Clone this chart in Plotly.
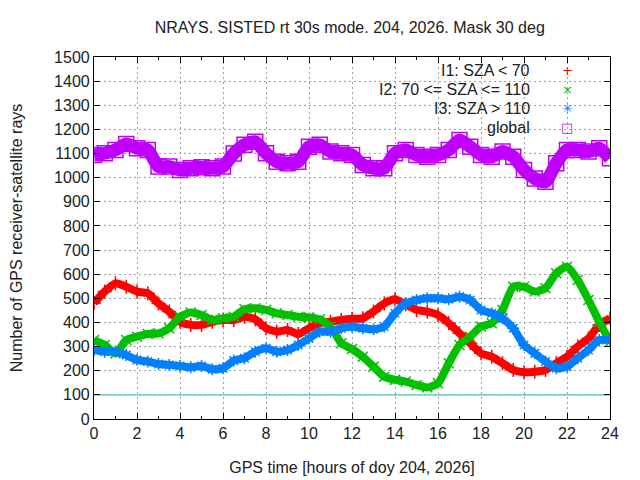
import plotly.graph_objects as go

# GPS time (hours of day), read every half hour
hours = [i * 0.5 for i in range(49)]

i1_rays = [481, 528, 562, 548, 528, 521, 479, 445, 403, 390, 390, 403, 410, 410, 424, 413,
           376, 362, 369, 352, 376, 397, 403, 410, 415, 417, 445, 479, 496, 475, 452, 445,
           431, 397, 355, 314, 272, 258, 231, 203, 194, 196, 203, 231, 258, 300, 334, 390, 417]
i2_rays = [327, 307, 272, 327, 341, 352, 355, 376, 424, 441, 431, 410, 417, 424, 455, 459,
           452, 438, 431, 424, 421, 413, 383, 314, 290, 258, 217, 175, 162, 155, 141, 131,
           148, 231, 307, 341, 383, 397, 452, 548, 548, 528, 542, 604, 631, 576, 493, 403, 320]
i3_rays = [286, 279, 279, 265, 245, 238, 228, 224, 220, 214, 220, 206, 210, 242, 252, 279,
           293, 279, 286, 307, 334, 362, 362, 376, 382, 376, 372, 383, 438, 479, 493, 500,
           500, 496, 507, 493, 452, 438, 417, 376, 307, 272, 238, 210, 217, 252, 286, 327, 327]
global_rays = [1094, 1101, 1115, 1140, 1122, 1115, 1046, 1046, 1032, 1039, 1043, 1039, 1046,
               1100, 1136, 1149, 1101, 1066, 1060, 1066, 1128, 1136, 1108, 1101, 1094, 1053,
               1039, 1039, 1101, 1115, 1094, 1087, 1094, 1115, 1156, 1128, 1094, 1087, 1108,
               1087, 1032, 997, 983, 1060, 1115, 1115, 1108, 1122, 1080]
threshold = 100

labels = ["I1: SZA < 70", "I2: 70 <= SZA <= 110", "I3: SZA > 110", "global"]
colors = ["#ff0000", "#00c000", "#0080ff", "#c000ff"]
key_glyphs = ["+", "\u00d7", "\u2733", "\u25a1"]
symbols = ["cross-thin-open", "x-thin-open", "asterisk-open", "square-open"]
widths = [8, 8, 8, 13]

FONT = "Liberation Sans, Arial, sans-serif"
TXT = "#202020"

fig = go.Figure()
for ys, c, s, w in zip([i1_rays, i2_rays, i3_rays, global_rays], colors, symbols, widths):
    fig.add_trace(go.Scatter(x=hours, y=ys, mode="lines+markers",
                             line=dict(color=c, width=w, shape="spline", smoothing=0.6),
                             marker=dict(symbol=s, size=w + 2, color=c, line=dict(width=1.5, color=c)),
                             showlegend=False, hoverinfo="skip"))

fig.add_hline(y=threshold, line=dict(color="#20d8d8", width=1.2), layer="below")

# gnuplot style key: text right aligned, symbol on the right
for k, (lab, c, g) in enumerate(zip(labels, colors, key_glyphs)):
    yk = 0.964 - k * 0.0525
    fig.add_annotation(x=0.849, y=yk, xref="paper", yref="paper", text=lab, showarrow=False,
                       xanchor="right", yanchor="middle", font=dict(family=FONT, size=16, color=TXT))
    fig.add_annotation(x=0.917, y=yk, xref="paper", yref="paper", text=g, showarrow=False,
                       xanchor="center", yanchor="middle", font=dict(family="DejaVu Sans", size=13, color=c))

axis_common = dict(showline=True, linecolor="black", linewidth=1.2, mirror="allticks",
                   ticks="inside", tickcolor="black", showgrid=True, gridcolor="#a0a0a0",
                   griddash="2px,3px", gridwidth=1, zeroline=False, automargin=False,
                   tickfont=dict(family=FONT, size=16, color=TXT))

fig.update_xaxes(range=[0, 24], dtick=2, ticklen=6,
                 minor=dict(dtick=1, ticks="inside", ticklen=3, tickcolor="black", showgrid=False),
                 title=dict(text="GPS time [hours of doy 204, 2026]", standoff=20,
                            font=dict(family=FONT, size=16, color=TXT)),
                 **axis_common)
fig.update_yaxes(range=[0, 1500], dtick=100, ticklen=6,
                 title=dict(text="Number of GPS receiver-satellite rays", standoff=29,
                            font=dict(family=FONT, size=16, color=TXT)),
                 **axis_common)

# page body adds ~8px offset, so margins are shifted to keep the plot box in place
fig.update_layout(width=640, height=480, plot_bgcolor="white", paper_bgcolor="white",
                  margin=dict(l=86, r=38, t=49, b=69),
                  title=dict(text="NRAYS. SISTED rt 30s mode. 204, 2026. Mask 30 deg",
                             x=0.534, xanchor="center", y=0.960, yanchor="middle",
                             font=dict(family=FONT, size=16, color=TXT)))

fig.write_html("out.html")
